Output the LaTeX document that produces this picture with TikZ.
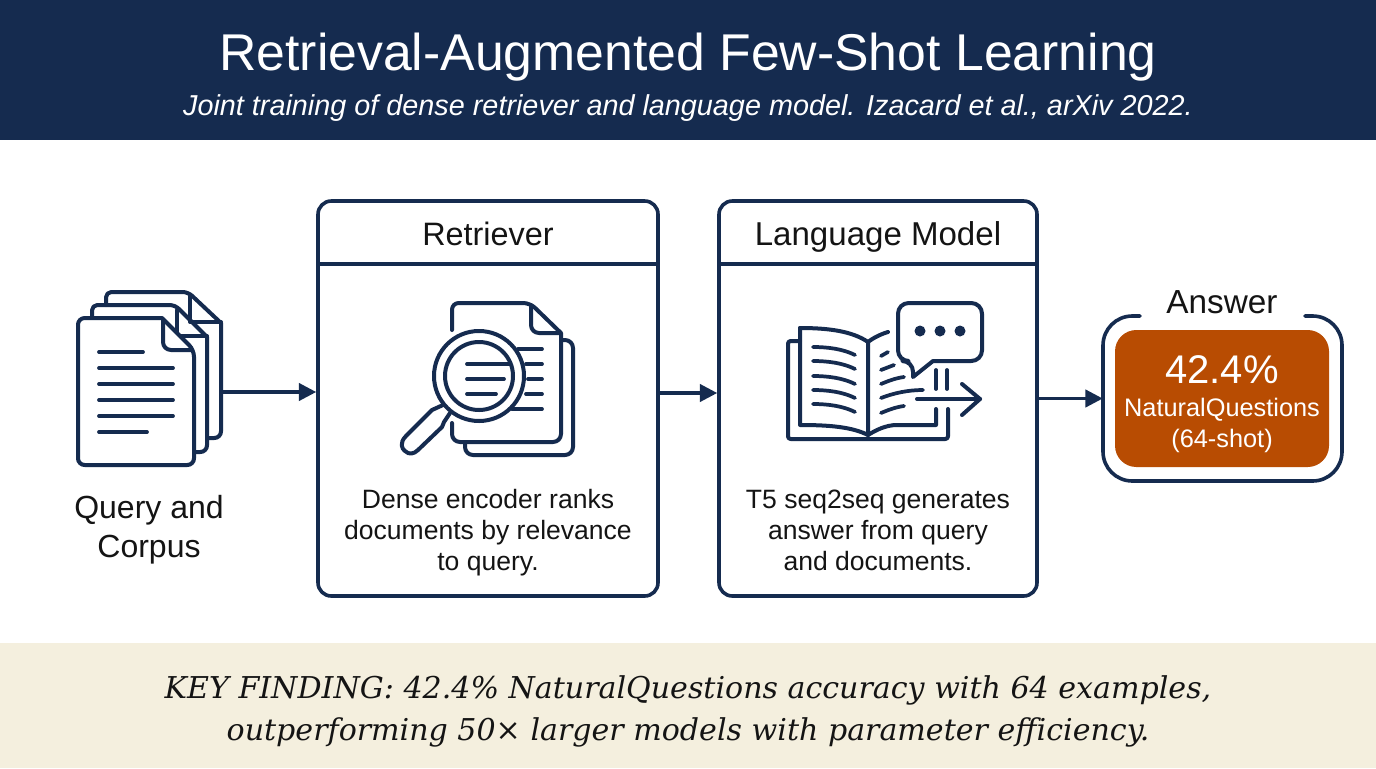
\documentclass[tikz,border=0pt]{standalone}
\usepackage{fontspec}
\setmainfont{Liberation Sans}
\newfontfamily\footfont{DejaVu Serif}
\usetikzlibrary{arrows.meta,calc}
\definecolor{navy}{HTML}{152B4F}
\definecolor{burnt}{HTML}{B84C02}
\definecolor{cream}{HTML}{F4EFDE}
\definecolor{ink}{HTML}{141414}
\newcommand{\fs}[2]{\fontsize{#1pt}{#2pt}\selectfont}
\tikzset{
  icon/.style={draw=navy,line width=3pt,line join=round,line cap=round},
  thinline/.style={draw=navy,line width=2.8pt,line cap=round},
  arr/.style={draw=navy,line width=2.4pt,-{Triangle[length=13pt,width=13pt]}},
  panel/.style={draw=navy,line width=2.7pt,rounded corners=10pt,minimum height=296.25pt,fill=white},
  lab/.style={text=ink,align=center,inner sep=0pt},
  caption/.style={lab,font=\fs{19.9}{23.25}},
}
\begin{document}
\begin{tikzpicture}[x=0.75pt,y=-0.75pt]
\useasboundingbox (0,0) rectangle (1376,768);
\fill[white] (0,0) rectangle (1376,768);
\fill[navy] (0,0) rectangle (1376,140);
\fill[cream] (0,643) rectangle (1376,768);
\node[inner sep=0pt,text=white,font=\fs{38.8}{44}] (title) at (688,57) {Retrieval-Augmented Few-Shot Learning};
\node[inner sep=0pt,text=white,font=\fs{21.6}{24}\itshape] (subtitle) at (688,108) {Joint training of dense retriever and language model. Izacard et al., arXiv 2022.};
\node[inner sep=0pt,text=ink,align=center,font=\footfont\itshape\fs{22.55}{31.5}] (finding) at (688,711) {KEY FINDING: 42.4\% NaturalQuestions accuracy with 64 examples,\\outperforming 50× larger models with parameter efficiency.};

% panels
\node[panel,minimum width=255pt] (retr) at (488,398.5) {};
\node[panel,minimum width=238.5pt] (lm) at (878,398.5) {};
\coordinate (rd) at (0,264);
\draw[icon,line width=2.7pt,line cap=butt] (retr.west |- rd) -- (retr.east |- rd);
\draw[icon,line width=2.7pt,line cap=butt] (lm.west |- rd) -- (lm.east |- rd);
\node[lab,anchor=base,font=\fs{24.3}{28}] (retrtitle) at (488,245) {Retriever};
\node[lab,anchor=base,font=\fs{24.8}{28}] (lmtitle) at (878,245) {Language Model};
\node[caption] (retrtext) at (488,532.5) {Dense encoder ranks\\documents by relevance\\to query.};
\node[caption] (lmtext) at (878,530.5) {T5 seq2seq generates\\answer from query\\and documents.};
\node[lab,font=\fs{24}{29}] (docslab) at (149,530) {Query and\\Corpus};

% documents icon
\draw[icon,rounded corners=4pt] (106,305) -- (106,292) -- (188,292) [sharp corners] -- (221,323) [rounded corners=5pt] -- (221,438) -- (208,438);
\draw[icon] (190,296) -- (190,322) -- (221,322);
\draw[icon,rounded corners=4pt] (92,318) -- (92,305) -- (175,305) [sharp corners] -- (207,337) [rounded corners=5pt] -- (207,452) -- (195,452);
\draw[icon] (177,310) -- (177,336) -- (207,336);
\draw[icon,fill=white,rounded corners=5pt] (120,318) -- (78,318) -- (78,465) -- (194,465) -- (194,350) [sharp corners] -- (162,318) -- (120,318);
\draw[icon,rounded corners=6pt] (163,320) -- (163,350) -- (192,350);
\foreach \y/\e in {352/143,368/173,384/173,400/173,416/173,432/147}
  \draw[thinline] (99,\y) -- (\e,\y);
\coordinate (docsout) at (221,392);
\draw[arr] (docsout) -- (docsout -| retr.west);

% retriever icon
\draw[icon,rounded corners=5pt] (452,330) -- (452,303) -- (530,303) [sharp corners] -- (561,333) [rounded corners=6pt] -- (561,442) -- (452,442) -- (452,423);
\draw[icon,rounded corners=6pt] (531,305) -- (531,333) -- (560,333);
\draw[icon,rounded corners=6pt] (563,340) -- (573,340) -- (573,455) -- (465,455) -- (465,443);
\foreach \s/\y in {518/349,526/364,528/379,526/394,512/409}
  \draw[thinline] (\s,\y) -- (542,\y);
\draw[icon,fill=white] (479,376) circle[radius=45];
\draw[icon] (479,376) circle[radius=34];
\draw[thinline] (467,364) -- (510,364);
\draw[thinline] (467,379) -- (504,379);
\draw[thinline] (467,394) -- (496,394);
\draw[icon] (443,405) -- (432,410) -- (406,436) .. controls (399,443) and (402,449) .. (405,451) .. controls (409,455) and (414,454) .. (418,450) -- (442,427) -- (444,422) -- (450,413);

% language model icon
\draw[icon,rounded corners=2pt] (800,341) -- (788,341) -- (788,439) -- (948,439) -- (948,409);
\draw[icon] (800,328) .. controls (828,328) and (852,331) .. (868,342) -- (868,435);
\draw[icon] (800,328) -- (800,425) .. controls (830,425) and (852,427) .. (868,435);
\draw[icon] (868,342) .. controls (873,338) and (881,334) .. (888,332);
\draw[icon] (868,435) .. controls (876,430) and (886,425) .. (897,425) -- (936,425) -- (936,409);
\draw[thinline] (936,370) -- (936,389);
\draw[thinline] (947,370) -- (947,389);
\foreach \y in {347,361,376,390,404}
  \draw[thinline] (813,\y) .. controls (828,\y) and (843,\y+2) .. (855,\y+8);
\draw[thinline] (881,356) -- (888,352);
\draw[thinline] (881,370) -- (894,365);
\draw[thinline] (881,384) .. controls (888,381) and (896,378) .. (904,377);
\draw[thinline] (881,398) .. controls (894,393) and (908,390) .. (923,390);
\draw[thinline] (881,413) .. controls (888,410) and (896,407) .. (904,406);
\draw[icon] (917,399) -- (980,399);
\draw[icon] (962,384) -- (980,399) -- (962,415);
\draw[icon,rounded corners=8pt] (933,361) -- (982,361) -- (982,303) -- (898,303) -- (898,361) -- (913,361) [sharp corners] -- (913,377) -- cycle;
\foreach \x in {920,940,960}
  \fill[navy] (\x,331) circle[radius=5.5];
\coordinate (lmin) at (0,393);
\draw[arr] (retr.east |- lmin) -- (lm.west |- lmin);

% answer
\node[minimum width=179.25pt,minimum height=123.75pt,inner sep=0pt] (ans) at (1222.5,398.5) {};
\draw[icon,line width=2.7pt,rounded corners=22pt] (1140,316) -- (1103,316) -- (1103,481) -- (1342,481) -- (1342,316) -- (1305,316);
\node[fill=burnt,rounded corners=16pt,minimum width=160.5pt,minimum height=102.75pt,inner sep=0pt] (score) at (1222,398.5) {};
\node[lab,font=\fs{25}{29}] (anslab) at (1222,302) {Answer};
\node[inner sep=0pt,text=white,font=\fs{30}{34}] (pct) at (1222,370) {42.4\%};
\node[inner sep=0pt,text=white,align=center,font=\fs{19}{23.25}] (scoretext) at (1222,425.5) {NaturalQuestions\\(64-shot)};
\draw[arr] (lm.east) -- (ans.west);
\end{tikzpicture}
\end{document}
